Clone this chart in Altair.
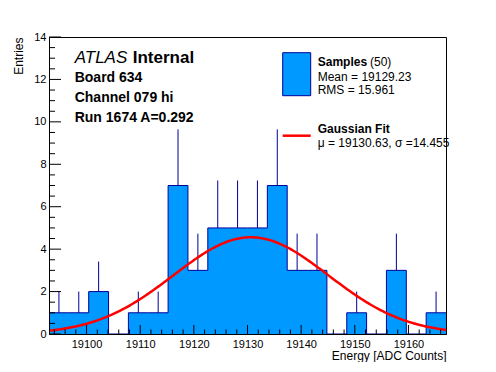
import altair as alt
import numpy as np
import pandas as pd

# ---------------- data ----------------
bin_low = [19093.0, 19096.7, 19100.4, 19104.1, 19107.8, 19111.5, 19115.2, 19118.9,
           19122.6, 19126.3, 19130.0, 19133.7, 19137.4, 19141.1, 19144.8, 19148.5,
           19152.2, 19155.9, 19159.6, 19163.3]
bin_high = bin_low[1:] + [19167.0]
counts = [1, 1, 2, 0, 1, 1, 7, 3, 5, 5, 5, 7, 3, 3, 0, 1, 0, 3, 0, 1]

fit_mu = 19130.63
fit_sigma = 14.455
fit_amp = 4.56

x_min, x_max = 19093.0, 19167.0
x_major = [19100, 19110, 19120, 19130, 19140, 19150, 19160]
x_minor = [v for v in range(19094, 19167, 2) if v % 10 != 0]
y_major = [0, 2, 4, 6, 8, 10, 12, 14]
y_minor = [v / 2 for v in range(1, 28) if v % 4 != 0]

FONT = "Liberation Sans"
FILL = "#0099ff"
NAVY = "#000099"
RED = "#ff0000"
W, H = 397, 297

hist_df = pd.DataFrame({"lo": bin_low, "hi": bin_high, "count": counts})
hist_df["center"] = (hist_df["lo"] + hist_df["hi"]) / 2
hist_df["err_top"] = hist_df["count"] + np.sqrt(hist_df["count"])
err_df = hist_df[hist_df["count"] > 0]

step_df = pd.DataFrame({"x": bin_low + [x_max], "y": counts + [counts[-1]]})

fx = np.linspace(x_min, x_max, 300)
fit_df = pd.DataFrame({"x": fx,
                       "y": fit_amp * np.exp(-((fx - fit_mu) ** 2) / (2 * fit_sigma ** 2))})

one = pd.DataFrame({"a": [0]})

xs = alt.Scale(domain=[x_min, x_max], nice=False, zero=False)
ys = alt.Scale(domain=[0, 14], nice=False, zero=False)

xaxis = alt.Axis(values=x_major, format="d", ticks=False, grid=False, domain=True,
                 domainColor="black", labelFontSize=11, labelColor="black",
                 labelFont=FONT, labelPadding=4, title="Energy [ADC Counts]",
                 titleFont=FONT, titleFontSize=12,
                 titleFontWeight="normal", titleColor="black", titleX=W, titleY=21,
                 titleAlign="right", titleBaseline="middle", zindex=1)
yaxis = alt.Axis(values=y_major, ticks=False, grid=False, domain=True,
                 domainColor="black", labelFontSize=11, labelColor="black",
                 labelFont=FONT, labelPadding=3, title="Entries", titleFont=FONT,
                 titleFontSize=12,
                 titleFontWeight="normal", titleColor="black", titleAngle=270,
                 titleX=-31, titleY=0, titleAlign="right", titleBaseline="middle",
                 zindex=1)


def X(field):
    return alt.X(field, scale=xs, axis=xaxis)


def Y(field):
    return alt.Y(field, scale=ys, axis=yaxis)


fill = alt.Chart(step_df).mark_area(interpolate="step-after", color=FILL,
                                    opacity=1).encode(
    x=X("x:Q"),
    y=Y("y:Q"),
)

outline = alt.Chart(step_df).mark_line(interpolate="step-after", color=NAVY,
                                       strokeWidth=1).encode(
    x=X("x:Q"),
    y=Y("y:Q"),
)

errs = alt.Chart(err_df).mark_rule(color=NAVY, strokeWidth=1).encode(
    x=X("center:Q"),
    y=Y("count:Q"),
    y2="err_top:Q",
)

fit = alt.Chart(fit_df).mark_line(color=RED, strokeWidth=2.5).encode(
    x=X("x:Q"),
    y=Y("y:Q"),
)


def xticks(vals, length):
    return alt.Chart(pd.DataFrame({"x": vals})).mark_rule(color="black", strokeWidth=1).encode(
        x=X("x:Q"),
        y=alt.value(H),
        y2=alt.value(H - length),
    )


def yticks(vals, length):
    return alt.Chart(pd.DataFrame({"y": vals})).mark_rule(color="black", strokeWidth=1).encode(
        y=Y("y:Q"),
        x=alt.value(0),
        x2=alt.value(length),
    )


def txt(s, x, y, size, weight="normal", style="normal", align="left"):
    return alt.Chart(one).mark_text(text=s, fontSize=size, fontWeight=weight,
                                    fontStyle=style, align=align, baseline="middle",
                                    font=FONT, color="black").encode(
        x=alt.value(x), y=alt.value(y))


leg_box = alt.Chart(one).mark_rect(fill=FILL, stroke=NAVY, strokeWidth=1).encode(
    x=alt.value(233.7), x2=alt.value(261.7), y=alt.value(15.7), y2=alt.value(58.7))
leg_line = alt.Chart(one).mark_rule(color=RED, strokeWidth=2.5).encode(
    x=alt.value(233.7), x2=alt.value(261.7), y=alt.value(98.7))

chart = alt.layer(
    fill, outline, errs, fit,
    xticks(x_major, 9), xticks(x_minor, 4.5),
    yticks(y_major, 12), yticks(y_minor, 6),
    txt("ATLAS", 25.7, 21, 17, style="italic"),
    txt("Internal", 83.7, 21, 17, weight="bold"),
    txt("Board 634", 25.7, 40.5, 14, weight="bold"),
    txt("Channel 079 hi", 25.7, 60.5, 14, weight="bold"),
    txt("Run 1674 A=0.292", 25.7, 80.5, 14, weight="bold"),
    leg_box, leg_line,
    txt("Samples", 268.7, 24.7, 12, weight="bold"),
    txt("(50)", 321.0, 24.7, 12),
    txt("Mean = 19129.23", 268.7, 39.5, 12),
    txt("RMS = 15.961", 268.7, 53.0, 12),
    txt("Gaussian Fit", 268.7, 92.0, 12, weight="bold"),
    txt("\u03bc = 19130.63, \u03c3 =14.455", 268.7, 105.5, 12),
).properties(
    width=W, height=H,
    background="white",
    autosize=alt.AutoSizeParams(type="none"),
    padding={"left": 41, "top": 29, "right": 42, "bottom": 28},
).configure_view(
    stroke="black", strokeWidth=1
)

chart.save("out.html", embed_options={"renderer": "svg", "actions": False})
